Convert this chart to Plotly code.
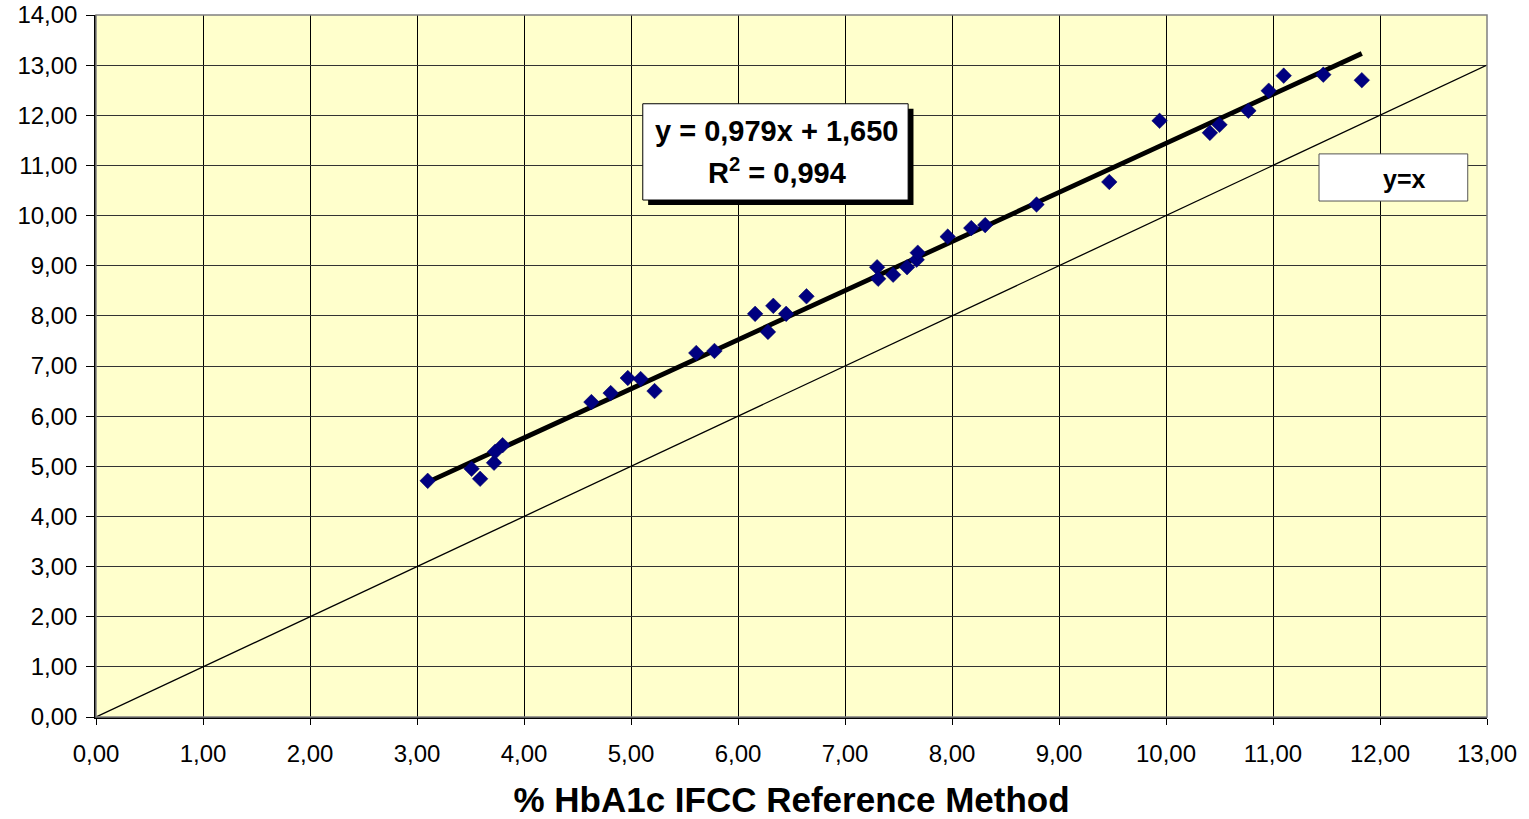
import plotly.graph_objects as go

# Data
x_ref = [3.10, 3.51, 3.59, 3.72, 3.73, 3.80, 4.63, 4.81, 4.97, 5.09, 5.22,
         5.61, 5.78, 6.16, 6.28, 6.33, 6.45, 6.64, 7.30, 7.31, 7.45, 7.58,
         7.67, 7.68, 7.96, 8.18, 8.31, 8.79, 9.47, 9.94, 10.41, 10.50,
         10.77, 10.96, 11.10, 11.47, 11.83]
y_meas = [4.71, 4.95, 4.75, 5.07, 5.29, 5.42, 6.28, 6.46, 6.76, 6.74, 6.50,
          7.26, 7.30, 8.04, 7.68, 8.20, 8.04, 8.39, 8.97, 8.74, 8.82, 8.97,
          9.12, 9.26, 9.58, 9.75, 9.81, 10.22, 10.67, 11.89, 11.65, 11.81,
          12.09, 12.49, 12.79, 12.81, 12.70]

slope = 0.979
intercept = 1.650
identity_x = [0, 13]
identity_y = [0, 13]
x_ticks = list(range(0, 14))
y_ticks = list(range(0, 15))

FONT = "Liberation Sans, Arial, sans-serif"

fit_x = [min(x_ref), max(x_ref)]
fit_y = [slope * v + intercept for v in fit_x]

fig = go.Figure()
fig.add_trace(go.Scatter(x=identity_x, y=identity_y, mode="lines",
                         line=dict(color="black", width=1.3),
                         showlegend=False, hoverinfo="skip"))
fig.add_trace(go.Scatter(x=fit_x, y=fit_y, mode="lines",
                         line=dict(color="black", width=4.8),
                         showlegend=False, hoverinfo="skip"))
fig.add_trace(go.Scatter(x=x_ref, y=y_meas, mode="markers",
                         marker=dict(symbol="diamond", size=12, color="#000080",
                                     line=dict(color="#000060", width=0.5)),
                         showlegend=False))

# equation box with shadow
fig.add_shape(type="rect", xref="x", yref="y", x0=5.16, x1=7.64, y0=10.21, y1=12.13,
              fillcolor="black", line=dict(width=0), layer="above")
fig.add_shape(type="rect", xref="x", yref="y", x0=5.11, x1=7.59, y0=10.31, y1=12.23,
              fillcolor="white", line=dict(color="black", width=1), layer="above")
# y=x box
fig.add_shape(type="rect", xref="x", yref="y", x0=11.43, x1=12.82, y0=10.29, y1=11.23,
              fillcolor="white", line=dict(color="#555555", width=1), layer="above")
# plot border
fig.add_shape(type="rect", xref="paper", yref="paper", x0=0, x1=1, y0=0, y1=1,
              line=dict(color="#808080", width=1.5), layer="above")

fig.add_annotation(x=6.36, y=11.69, xref="x", yref="y", text="<b>y = 0,979x + 1,650</b>",
                   showarrow=False, font=dict(family=FONT, size=29, color="black"))
fig.add_annotation(x=6.36, y=10.88, xref="x", yref="y", text="<b>R<sup>2</sup> = 0,994</b>",
                   showarrow=False, font=dict(family=FONT, size=29, color="black"))
fig.add_annotation(x=12.23, y=10.72, xref="x", yref="y", text="<b>y=x</b>",
                   showarrow=False, font=dict(family=FONT, size=25, color="black"))

fig.update_layout(
    width=1529, height=819,
    margin=dict(l=96, r=42, t=15, b=102),
    plot_bgcolor="#FFFFCC", paper_bgcolor="white",
    separators=",.",
    font=dict(family=FONT, size=24, color="black"),
)
fig.update_xaxes(range=[0, 13], tickvals=x_ticks, tickformat=".2f",
                 showgrid=True, gridcolor="black", gridwidth=1,
                 showline=True, linecolor="black", linewidth=1.5,
                 ticks="outside", ticklen=6, tickcolor="black",
                 ticklabelstandoff=8, zeroline=False, automargin=False,
                 title=dict(text="<b>% HbA1c IFCC Reference Method</b>",
                            font=dict(family=FONT, size=35), standoff=25))
fig.update_yaxes(range=[0, 14], tickvals=y_ticks, tickformat=".2f",
                 showgrid=True, gridcolor="#333333", gridwidth=1,
                 showline=True, linecolor="black", linewidth=1.5,
                 ticks="outside", ticklen=8, tickcolor="black",
                 ticklabelstandoff=4, zeroline=False, automargin=False)

fig.write_html("out.html")
